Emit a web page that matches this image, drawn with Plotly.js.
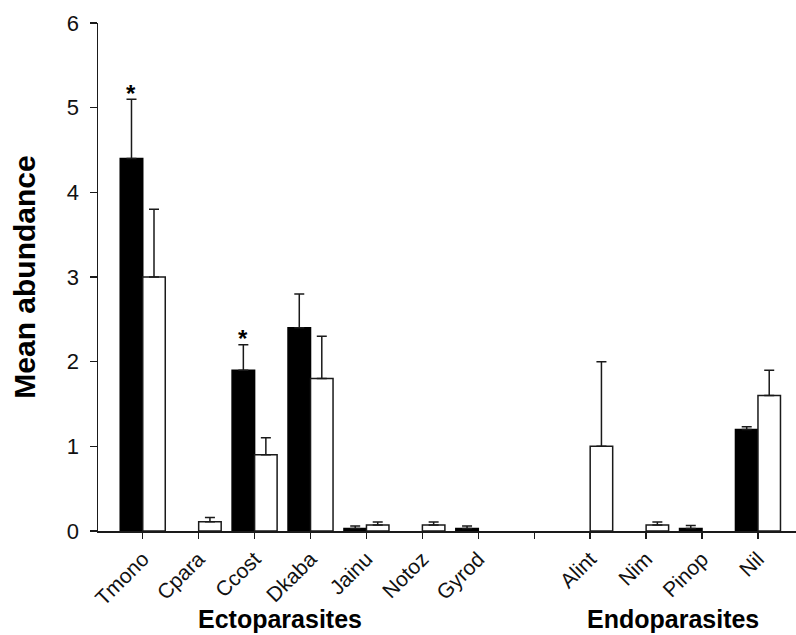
<!DOCTYPE html>
<html>
<head>
<meta charset="utf-8">
<script src="https://cdn.plot.ly/plotly-3.0.1.min.js"></script>
<style>
  html, body { margin: 0; padding: 0; background: #fff; }
  #chart { width: 796px; height: 635px; }
</style>
</head>
<body>
<div id="chart"></div>
<script>
// ---- data ----
var categories = ["Tmono", "Cpara", "Ccost", "Dkaba", "Jainu", "Notoz", "Gyrod", " ", "Alint", "Nim", "Pinop", "Nil"];
var blackValues = [4.4, null, 1.9, 2.4, 0.03, null, 0.03, null, null, null, 0.03, 1.2];
var blackErrors = [0.7, null, 0.3, 0.4, 0.03, null, 0.03, null, null, null, 0.035, 0.03];
var whiteValues = [3.0, 0.11, 0.9, 1.8, 0.07, 0.07, null, null, 1.0, 0.07, null, 1.6];
var whiteErrors = [0.8, 0.05, 0.2, 0.5, 0.035, 0.035, null, null, 1.0, 0.035, null, 0.3];
var significant = [true, false, true, false, false, false, false, false, false, false, false, false];
var groupLabels = ["Ectoparasites", "Endoparasites"];
var yTicks = [0, 1, 2, 3, 4, 5, 6];

var zeros = categories.map(function () { return 0; });
var bargap = 0.195;
var FONT = "Liberation Sans, Arial, sans-serif";

var traceBlack = {
  type: "bar",
  x: categories,
  y: blackValues,
  name: "black",
  marker: { color: "#000000", line: { color: "#000000", width: 1.5 } },
  error_y: {
    type: "data", symmetric: false, array: blackErrors, arrayminus: zeros,
    color: "#1a1a1a", thickness: 1.5, width: 5
  }
};
var traceWhite = {
  type: "bar",
  x: categories,
  y: whiteValues,
  name: "white",
  marker: { color: "#ffffff", line: { color: "#1a1a1a", width: 1.5 } },
  error_y: {
    type: "data", symmetric: false, array: whiteErrors, arrayminus: zeros,
    color: "#1a1a1a", thickness: 1.5, width: 5
  }
};

var annotations = [];
var offset = (1 - bargap) / 4;
significant.forEach(function (s, i) {
  if (s) {
    annotations.push({
      x: i - offset, y: blackValues[i] + blackErrors[i], xref: "x", yref: "y",
      text: "<b>*</b>", showarrow: false, yanchor: "middle", yshift: 6,
      font: { family: FONT, size: 24, color: "#000" }
    });
  }
});
var groupPos = [2.45, 9.48];
groupLabels.forEach(function (g, k) {
  annotations.push({
    x: groupPos[k], y: -0.2026, xref: "x", yref: "paper",
    text: "<b>" + g + "</b>", showarrow: false, xanchor: "center", yanchor: "bottom",
    borderpad: 0,
    font: { family: FONT, size: 25, color: "#000" }
  });
});

var layout = {
  width: 796, height: 635,
  margin: { l: 98, r: 0, t: 23, b: 104, pad: 0 },
  paper_bgcolor: "#ffffff", plot_bgcolor: "#ffffff",
  showlegend: false,
  barmode: "group", bargap: bargap, bargroupgap: 0,
  font: { family: FONT, color: "#111" },
  xaxis: {
    type: "category",
    range: [-0.8, 11.68],
    showline: true, linecolor: "#1a1a1a", linewidth: 1.5,
    ticks: "outside", ticklen: 6, tickwidth: 1.5, tickcolor: "#1a1a1a",
    tickangle: -45,
    tickfont: { size: 21, color: "#111" },
    showgrid: false, zeroline: false, fixedrange: true
  },
  yaxis: {
    range: [0, 6],
    tickvals: yTicks,
    ticktext: yTicks.map(String),
    showline: true, linecolor: "#1a1a1a", linewidth: 1.5,
    ticks: "outside", ticklen: 7, tickwidth: 1.5, tickcolor: "#1a1a1a",
    ticklabelstandoff: 6,
    tickfont: { size: 22, color: "#111" },
    showgrid: false, zeroline: false, fixedrange: true,
    title: {
      text: "<b>Mean abundance</b>",
      font: { size: 30, color: "#000" },
      standoff: 22
    }
  },
  annotations: annotations
};

Plotly.newPlot("chart", [traceBlack, traceWhite], layout, { displayModeBar: false, staticPlot: true });
</script>
</body>
</html>
